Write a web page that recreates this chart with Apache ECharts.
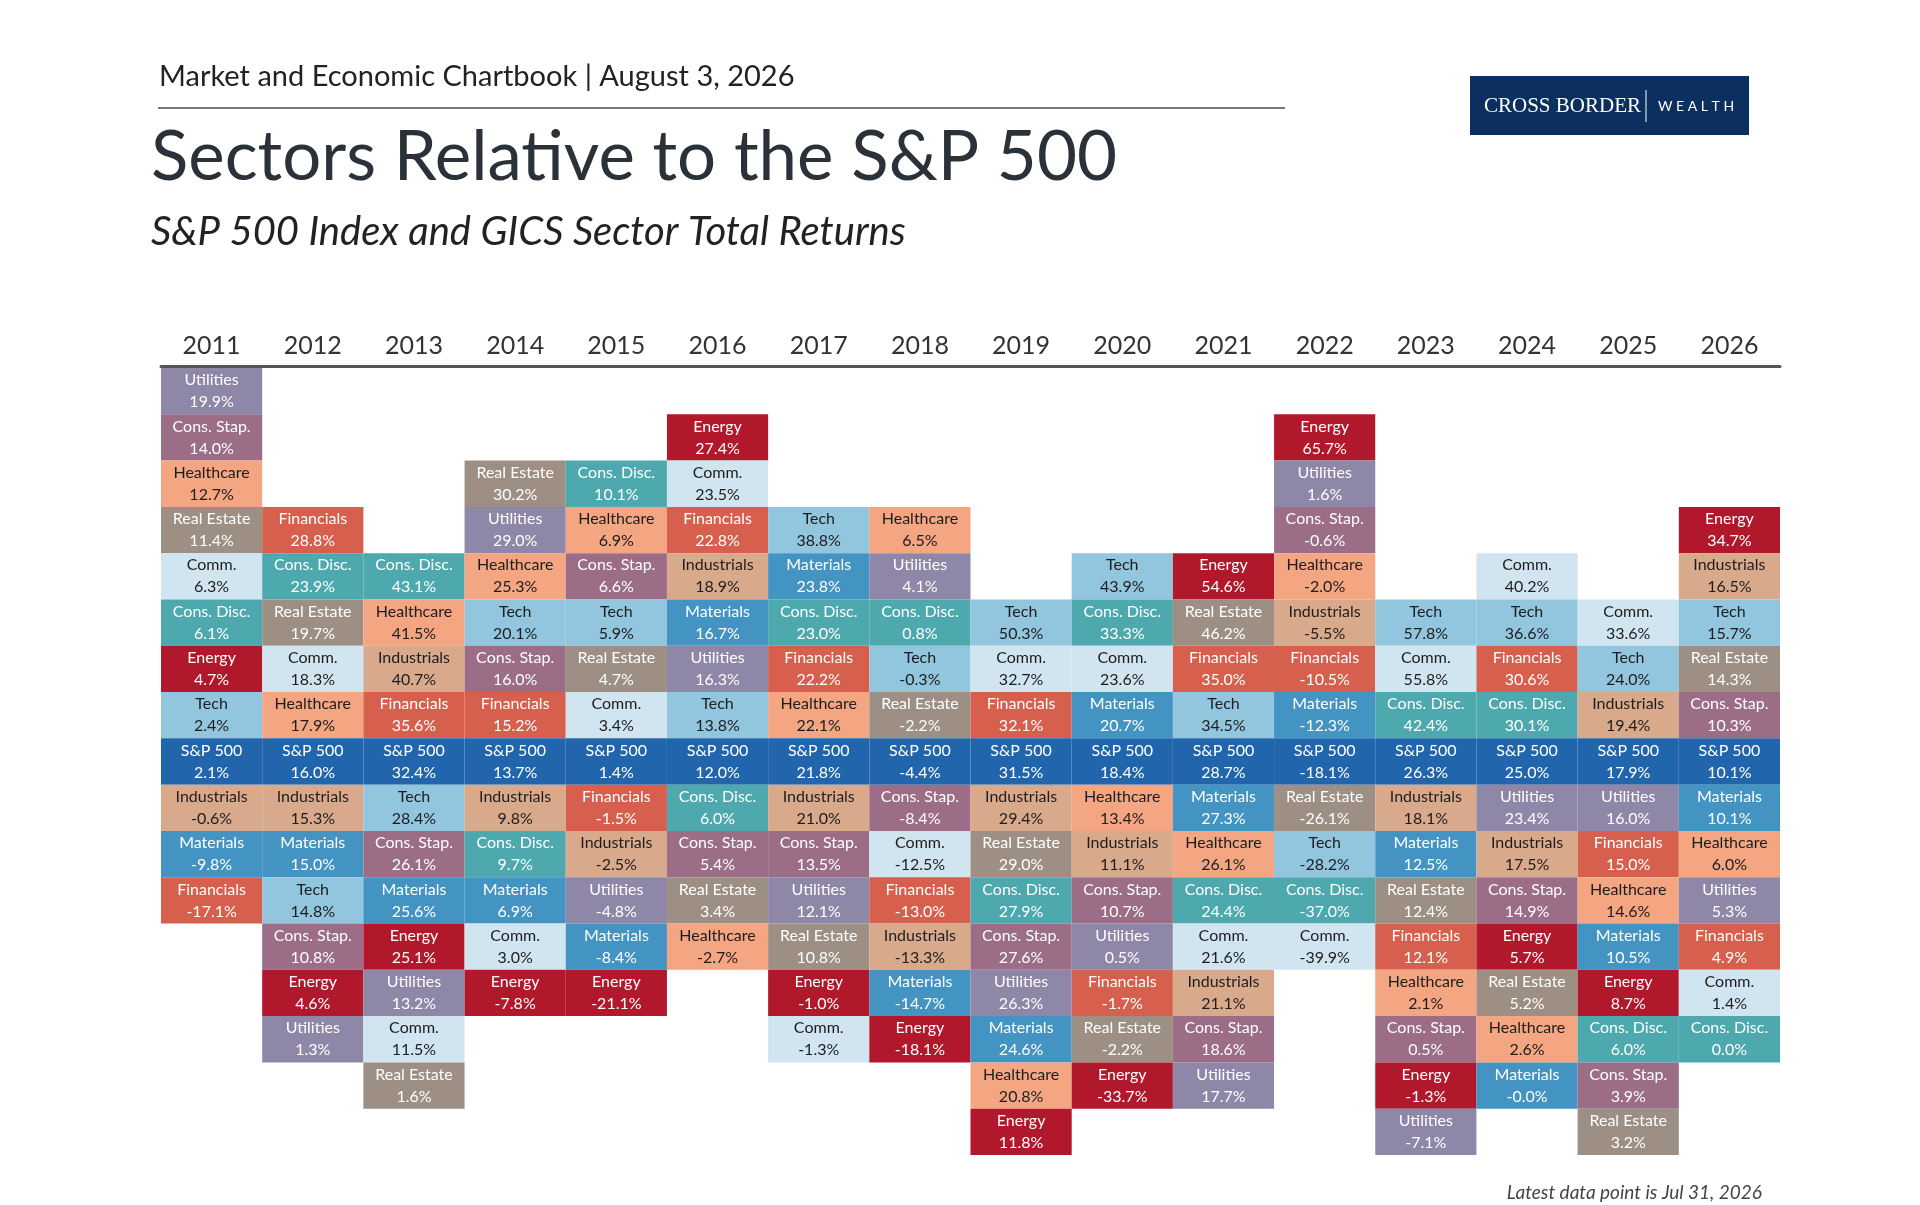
<!DOCTYPE html>
<html>
<head>
<meta charset="utf-8">
<script src="https://cdn.jsdelivr.net/npm/echarts@6/dist/echarts.min.js"></script>
<style>
html, body { margin: 0; padding: 0; background: #fff; }
#chart { width: 1920px; height: 1205px; }
</style>
</head>
<body>
<div id="chart"></div>
<script>
var years = ['2011', '2012', '2013', '2014', '2015', '2016', '2017', '2018', '2019', '2020', '2021', '2022', '2023', '2024', '2025', '2026'];

// each year, sectors ranked best to worst (S&P 500 included)
var sectorsByYear = [
    ['Utilities', 'Cons. Stap.', 'Healthcare', 'Real Estate', 'Comm.', 'Cons. Disc.', 'Energy', 'Tech', 'S&P 500', 'Industrials', 'Materials', 'Financials'],
    ['Financials', 'Cons. Disc.', 'Real Estate', 'Comm.', 'Healthcare', 'S&P 500', 'Industrials', 'Materials', 'Tech', 'Cons. Stap.', 'Energy', 'Utilities'],
    ['Cons. Disc.', 'Healthcare', 'Industrials', 'Financials', 'S&P 500', 'Tech', 'Cons. Stap.', 'Materials', 'Energy', 'Utilities', 'Comm.', 'Real Estate'],
    ['Real Estate', 'Utilities', 'Healthcare', 'Tech', 'Cons. Stap.', 'Financials', 'S&P 500', 'Industrials', 'Cons. Disc.', 'Materials', 'Comm.', 'Energy'],
    ['Cons. Disc.', 'Healthcare', 'Cons. Stap.', 'Tech', 'Real Estate', 'Comm.', 'S&P 500', 'Financials', 'Industrials', 'Utilities', 'Materials', 'Energy'],
    ['Energy', 'Comm.', 'Financials', 'Industrials', 'Materials', 'Utilities', 'Tech', 'S&P 500', 'Cons. Disc.', 'Cons. Stap.', 'Real Estate', 'Healthcare'],
    ['Tech', 'Materials', 'Cons. Disc.', 'Financials', 'Healthcare', 'S&P 500', 'Industrials', 'Cons. Stap.', 'Utilities', 'Real Estate', 'Energy', 'Comm.'],
    ['Healthcare', 'Utilities', 'Cons. Disc.', 'Tech', 'Real Estate', 'S&P 500', 'Cons. Stap.', 'Comm.', 'Financials', 'Industrials', 'Materials', 'Energy'],
    ['Tech', 'Comm.', 'Financials', 'S&P 500', 'Industrials', 'Real Estate', 'Cons. Disc.', 'Cons. Stap.', 'Utilities', 'Materials', 'Healthcare', 'Energy'],
    ['Tech', 'Cons. Disc.', 'Comm.', 'Materials', 'S&P 500', 'Healthcare', 'Industrials', 'Cons. Stap.', 'Utilities', 'Financials', 'Real Estate', 'Energy'],
    ['Energy', 'Real Estate', 'Financials', 'Tech', 'S&P 500', 'Materials', 'Healthcare', 'Cons. Disc.', 'Comm.', 'Industrials', 'Cons. Stap.', 'Utilities'],
    ['Energy', 'Utilities', 'Cons. Stap.', 'Healthcare', 'Industrials', 'Financials', 'Materials', 'S&P 500', 'Real Estate', 'Tech', 'Cons. Disc.', 'Comm.'],
    ['Tech', 'Comm.', 'Cons. Disc.', 'S&P 500', 'Industrials', 'Materials', 'Real Estate', 'Financials', 'Healthcare', 'Cons. Stap.', 'Energy', 'Utilities'],
    ['Comm.', 'Tech', 'Financials', 'Cons. Disc.', 'S&P 500', 'Utilities', 'Industrials', 'Cons. Stap.', 'Energy', 'Real Estate', 'Healthcare', 'Materials'],
    ['Comm.', 'Tech', 'Industrials', 'S&P 500', 'Utilities', 'Financials', 'Healthcare', 'Materials', 'Energy', 'Cons. Disc.', 'Cons. Stap.', 'Real Estate'],
    ['Energy', 'Industrials', 'Tech', 'Real Estate', 'Cons. Stap.', 'S&P 500', 'Materials', 'Healthcare', 'Utilities', 'Financials', 'Comm.', 'Cons. Disc.']
];

var returnsByYear = [
    [19.9, 14.0, 12.7, 11.4, 6.3, 6.1, 4.7, 2.4, 2.1, -0.6, -9.8, -17.1],
    [28.8, 23.9, 19.7, 18.3, 17.9, 16.0, 15.3, 15.0, 14.8, 10.8, 4.6, 1.3],
    [43.1, 41.5, 40.7, 35.6, 32.4, 28.4, 26.1, 25.6, 25.1, 13.2, 11.5, 1.6],
    [30.2, 29.0, 25.3, 20.1, 16.0, 15.2, 13.7, 9.8, 9.7, 6.9, 3.0, -7.8],
    [10.1, 6.9, 6.6, 5.9, 4.7, 3.4, 1.4, -1.5, -2.5, -4.8, -8.4, -21.1],
    [27.4, 23.5, 22.8, 18.9, 16.7, 16.3, 13.8, 12.0, 6.0, 5.4, 3.4, -2.7],
    [38.8, 23.8, 23.0, 22.2, 22.1, 21.8, 21.0, 13.5, 12.1, 10.8, -1.0, -1.3],
    [6.5, 4.1, 0.8, -0.3, -2.2, -4.4, -8.4, -12.5, -13.0, -13.3, -14.7, -18.1],
    [50.3, 32.7, 32.1, 31.5, 29.4, 29.0, 27.9, 27.6, 26.3, 24.6, 20.8, 11.8],
    [43.9, 33.3, 23.6, 20.7, 18.4, 13.4, 11.1, 10.7, 0.5, -1.7, -2.2, -33.7],
    [54.6, 46.2, 35.0, 34.5, 28.7, 27.3, 26.1, 24.4, 21.6, 21.1, 18.6, 17.7],
    [65.7, 1.6, -0.6, -2.0, -5.5, -10.5, -12.3, -18.1, -26.1, -28.2, -37.0, -39.9],
    [57.8, 55.8, 42.4, 26.3, 18.1, 12.5, 12.4, 12.1, 2.1, 0.5, -1.3, -7.1],
    [40.2, 36.6, 30.6, 30.1, 25.0, 23.4, 17.5, 14.9, 5.7, 5.2, 2.6, -0.0],
    [33.6, 24.0, 19.4, 17.9, 16.0, 15.0, 14.6, 10.5, 8.7, 6.0, 3.9, 3.2],
    [34.7, 16.5, 15.7, 14.3, 10.3, 10.1, 10.1, 6.0, 5.3, 4.9, 1.4, 0.0]
];

var sectorColors = {
    'Utilities': '#8e87a8', 'Cons. Stap.': '#9c6d86', 'Healthcare': '#f4a582',
    'Real Estate': '#9d8f84', 'Comm.': '#d1e5f0', 'Cons. Disc.': '#4da9ae',
    'Energy': '#b2182b', 'Tech': '#92c5de', 'S&P 500': '#2166ac',
    'Industrials': '#d9a98b', 'Materials': '#4393c3', 'Financials': '#d6604d'
};
var darkText = ['Healthcare', 'Comm.', 'Tech', 'Industrials'];

// S&P 500 sits on row 8 in every column
var SP_ROW = 8;
var cells = [];
years.forEach(function (y, i) {
    var names = sectorsByYear[i];
    var spIdx = names.indexOf('S&P 500');
    names.forEach(function (n, k) {
        cells.push([i, SP_ROW - spIdx + k, n, returnsByYear[i][k]]);
    });
});

var myChart = echarts.init(document.getElementById('chart'));
var option = {
    animation: false,
    textStyle: { fontFamily: 'Lato' },
    grid: { left: 161, right: 140, top: 366, bottom: 52 },
    graphic: [
        { type: 'text', left: 159, top: 62, style: { text: 'Market and Economic Chartbook | August 3, 2026', fontSize: 29, fill: '#222', fontFamily: 'Lato' } },
        { type: 'line', shape: { x1: 158, y1: 108, x2: 1285, y2: 108 }, style: { stroke: '#777', lineWidth: 2 } },
        { type: 'text', left: 151, top: 123, style: { text: 'Sectors Relative to the S&P 500', fontSize: 69, fill: '#2b3138', fontFamily: 'Lato' } },
        { type: 'text', left: 151, top: 212, style: { text: 'S&P 500 Index and GICS Sector Total Returns', fontSize: 40, fontStyle: 'italic', fill: '#222', fontFamily: 'Lato' } },
        { type: 'rect', shape: { x: 1470, y: 76, width: 279, height: 59 }, style: { fill: '#0b2f5e' } },
        { type: 'text', x: 1484, y: 106, style: { text: 'CROSS BORDER', fontSize: 21, fill: '#fff', fontFamily: 'Liberation Serif', verticalAlign: 'middle' } },
        { type: 'line', shape: { x1: 1646, y1: 90, x2: 1646, y2: 122 }, style: { stroke: '#fff', lineWidth: 1 } },
        { type: 'text', x: 1658, y: 106, style: { text: 'W E A L T H', fontSize: 14, fill: '#fff', fontFamily: 'Lato', verticalAlign: 'middle' } },
        { type: 'text', right: 158, top: 1183, style: { text: 'Latest data point is Jul 31, 2026', fontSize: 19, fontStyle: 'italic', fill: '#444', fontFamily: 'Lato' } }
    ],
    xAxis: {
        type: 'category',
        position: 'top',
        data: years,
        axisLine: { lineStyle: { color: '#555', width: 3 } },
        axisTick: { show: false },
        axisLabel: { fontSize: 25, color: '#333', margin: 8 }
    },
    yAxis: {
        type: 'value', min: 0, max: 17, inverse: true, show: false
    },
    series: [{
        type: 'custom',
        data: cells,
        renderItem: function (params, api) {
            var p0 = api.coord([api.value(0), api.value(1)]);
            var p1 = api.coord([api.value(0), api.value(1) + 1]);
            var w = api.size([1, 0])[0];
            var name = cells[params.dataIndex][2];
            var val = cells[params.dataIndex][3];
            var txt = (val === 0 && 1 / val < 0 ? '-0.0' : val.toFixed(1)) + '%';
            return {
                type: 'rect',
                shape: { x: p0[0] - w / 2, y: p0[1] + 2, width: w, height: p1[1] - p0[1] },
                style: { fill: sectorColors[name], stroke: null },
                textContent: {
                    style: {
                        text: name + '\n' + txt,
                        fontSize: 16,
                        lineHeight: 22,
                        fill: darkText.indexOf(name) >= 0 ? '#1d1d1d' : '#fff',
                        fontFamily: 'Lato',
                        align: 'center'
                    }
                },
                textConfig: { position: 'inside' }
            };
        }
    }]
};
myChart.setOption(option);
</script>
</body>
</html>
